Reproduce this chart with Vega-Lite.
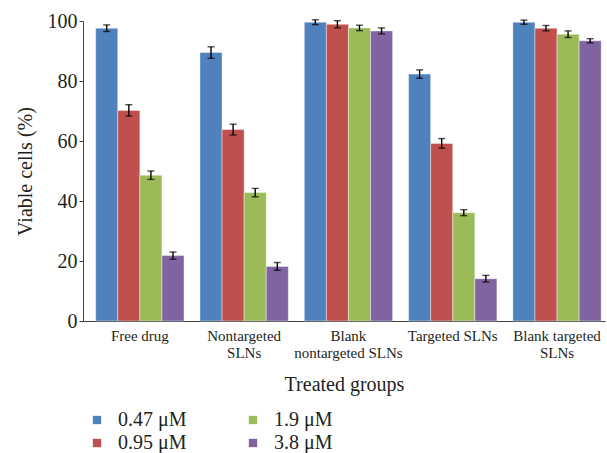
{
  "$schema": "https://vega.github.io/schema/vega-lite/v6.json",
  "autosize": {"type": "none"},
  "padding": {"left": 83, "top": 21, "right": 2, "bottom": 132},
  "width": 522,
  "height": 300,
  "background": "white",
  "config": {
    "font": "Liberation Serif",
    "view": {"stroke": null},
    "axis": {"labelFont": "Liberation Serif", "titleFont": "Liberation Serif", "labelColor": "#231F20", "titleColor": "#231F20", "titleFontWeight": "normal", "grid": false, "domainColor": "#404040", "tickColor": "#404040", "labelOverlap": false}
  },
  "data": {
    "values": [
      {"group": "Free drug", "conc": "0.47 μM", "value": 97.6, "lo": 96.5, "hi": 98.7},
      {"group": "Free drug", "conc": "0.95 μM", "value": 70.2, "lo": 68.3, "hi": 72.1},
      {"group": "Free drug", "conc": "1.9 μM", "value": 48.6, "lo": 47.2, "hi": 50.0},
      {"group": "Free drug", "conc": "3.8 μM", "value": 21.8, "lo": 20.6, "hi": 23.0},
      {"group": "Nontargeted SLNs", "conc": "0.47 μM", "value": 89.5, "lo": 87.6, "hi": 91.4},
      {"group": "Nontargeted SLNs", "conc": "0.95 μM", "value": 63.8, "lo": 62.0, "hi": 65.6},
      {"group": "Nontargeted SLNs", "conc": "1.9 μM", "value": 42.8, "lo": 41.4, "hi": 44.2},
      {"group": "Nontargeted SLNs", "conc": "3.8 μM", "value": 18.2, "lo": 16.9, "hi": 19.5},
      {"group": "Blank nontargeted SLNs", "conc": "0.47 μM", "value": 99.6, "lo": 98.8, "hi": 100.4},
      {"group": "Blank nontargeted SLNs", "conc": "0.95 μM", "value": 98.9, "lo": 97.7, "hi": 100.1},
      {"group": "Blank nontargeted SLNs", "conc": "1.9 μM", "value": 97.7, "lo": 96.8, "hi": 98.6},
      {"group": "Blank nontargeted SLNs", "conc": "3.8 μM", "value": 96.7, "lo": 95.7, "hi": 97.7},
      {"group": "Targeted SLNs", "conc": "0.47 μM", "value": 82.3, "lo": 80.9, "hi": 83.7},
      {"group": "Targeted SLNs", "conc": "0.95 μM", "value": 59.2, "lo": 57.6, "hi": 60.8},
      {"group": "Targeted SLNs", "conc": "1.9 μM", "value": 36.1, "lo": 35.1, "hi": 37.1},
      {"group": "Targeted SLNs", "conc": "3.8 μM", "value": 14.1, "lo": 13.0, "hi": 15.2},
      {"group": "Blank targeted SLNs", "conc": "0.47 μM", "value": 99.6, "lo": 98.9, "hi": 100.3},
      {"group": "Blank targeted SLNs", "conc": "0.95 μM", "value": 97.6, "lo": 96.7, "hi": 98.5},
      {"group": "Blank targeted SLNs", "conc": "1.9 μM", "value": 95.6, "lo": 94.5, "hi": 96.7},
      {"group": "Blank targeted SLNs", "conc": "3.8 μM", "value": 93.4, "lo": 92.7, "hi": 94.1}
    ]
  },
  "encoding": {
    "x": {
      "field": "group", "type": "nominal", "sort": null,
      "scale": {"paddingInner": 0.153, "paddingOuter": 0.079, "align": 0.77},
      "axis": {
        "title": "Treated groups", "titleFontSize": 20, "titlePadding": 14,
        "labelFontSize": 15, "labelAngle": 0, "ticks": false, "labelPadding": 7, "labelLineHeight": 17,
        "labelExpr": "datum.label == 'Nontargeted SLNs' ? ['Nontargeted', 'SLNs'] : datum.label == 'Blank nontargeted SLNs' ? ['Blank', 'nontargeted SLNs'] : datum.label == 'Blank targeted SLNs' ? ['Blank targeted', 'SLNs'] : datum.label"
      }
    },
    "xOffset": {"field": "conc", "type": "nominal", "sort": ["0.47 μM", "0.95 μM", "1.9 μM", "3.8 μM"], "scale": {"paddingInner": 0, "paddingOuter": 0}}
  },
  "layer": [
    {
      "mark": {"type": "bar", "stroke": "white", "strokeWidth": 0.6, "strokeOpacity": 0.7},
      "encoding": {
        "y": {
          "field": "value", "type": "quantitative",
          "scale": {"domain": [0, 100], "nice": false},
          "axis": {"title": "Viable cells (%)", "titleFontSize": 20, "titlePadding": 12, "labelFontSize": 20, "values": [0, 20, 40, 60, 80, 100], "tickSize": 4, "labelPadding": 2}
        },
        "color": {
          "field": "conc", "type": "nominal",
          "scale": {"domain": ["0.47 μM", "0.95 μM", "1.9 μM", "3.8 μM"], "range": ["#4F81BD", "#C0504D", "#9BBB59", "#8064A2"]},
          "legend": {
            "title": null, "orient": "none", "legendX": 4, "legendY": 389, "columns": 2,
            "symbolType": "square", "symbolSize": 70, "symbolStrokeWidth": 0,
            "labelFontSize": 20, "labelFont": "Liberation Serif", "labelColor": "#231F20",
            "labelOffset": 11, "columnPadding": 56, "rowPadding": 3
          }
        }
      }
    },
    {
      "mark": {"type": "rule", "color": "black", "strokeWidth": 1.4},
      "encoding": {"y": {"field": "lo", "type": "quantitative"}, "y2": {"field": "hi"}}
    },
    {
      "mark": {"type": "tick", "color": "black", "size": 7, "thickness": 1.4},
      "encoding": {"y": {"field": "lo", "type": "quantitative"}}
    },
    {
      "mark": {"type": "tick", "color": "black", "size": 7, "thickness": 1.4},
      "encoding": {"y": {"field": "hi", "type": "quantitative"}}
    }
  ]
}
